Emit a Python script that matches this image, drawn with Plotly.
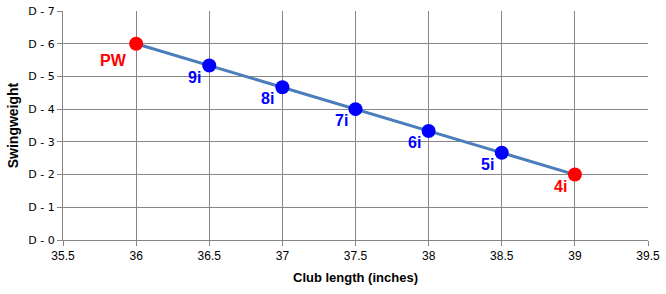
import plotly.graph_objects as go

club_length = [36, 36.5, 37, 37.5, 38, 38.5, 39]
swingweight = [6, 5.333, 4.667, 4, 3.333, 2.667, 2]
club_labels = ["PW", "9i", "8i", "7i", "6i", "5i", "4i"]
y_tick_vals = [0, 1, 2, 3, 4, 5, 6, 7]
y_tick_text = ["D - 0", "D - 1", "D - 2", "D - 3", "D - 4", "D - 5", "D - 6", "D - 7"]
x_tick_vals = [35.5, 36, 36.5, 37, 37.5, 38, 38.5, 39, 39.5]

colors = ["#FF0000" if lab in ("PW", "4i") else "#0000FF" for lab in club_labels]

fig = go.Figure()
fig.add_trace(go.Scatter(
    x=club_length, y=swingweight, mode="lines",
    line=dict(color="#4A7EBB", width=3), hoverinfo="skip", showlegend=False))
fig.add_trace(go.Scatter(
    x=club_length, y=swingweight, mode="markers",
    marker=dict(color=colors, size=14, line=dict(width=0)), showlegend=False))

for x, y, lab, c in zip(club_length, swingweight, club_labels, colors):
    xs, ys = (-7, -6) if lab == "PW" else (-6, -1)
    fig.add_annotation(x=x, y=y, text=f"<b>{lab}</b>", showarrow=False,
                       xanchor="right", yanchor="top", xshift=xs, yshift=ys,
                       font=dict(family="Liberation Sans, Arial", size=16, color=c))

fig.update_layout(
    width=666, height=294,
    margin=dict(l=63, r=18, t=11, b=54, autoexpand=False),
    paper_bgcolor="white", plot_bgcolor="white",
    font=dict(family="DejaVu Sans, Verdana", size=11, color="#000000"),
)
fig.update_xaxes(
    range=[35.5, 39.5], tickvals=x_tick_vals, ticktext=[str(v) for v in x_tick_vals],
    automargin=False,
    showgrid=True, gridcolor="#868686", gridwidth=1,
    showline=True, linecolor="#868686", linewidth=1, mirror=False,
    ticks="outside", ticklen=5, tickcolor="#868686",
    tickfont=dict(family="Liberation Sans, Arial", size=12),
    title=dict(text="<b>Club length (inches)</b>", standoff=10,
               font=dict(family="Liberation Sans Narrow, Liberation Sans", size=13)),
    zeroline=False)
fig.update_yaxes(
    range=[0, 7], tickvals=y_tick_vals, ticktext=y_tick_text,
    automargin=False,
    showgrid=True, gridcolor="#868686", gridwidth=1,
    showline=True, linecolor="#868686", linewidth=1,
    ticks="outside", ticklen=5, tickcolor="#868686",
    tickfont=dict(family="DejaVu Sans, Verdana", size=11),
    title=dict(text="<b>Swingweight</b>", standoff=6,
               font=dict(family="Liberation Sans, Arial", size=14)),
    zeroline=False)

fig.write_html("out.html")
